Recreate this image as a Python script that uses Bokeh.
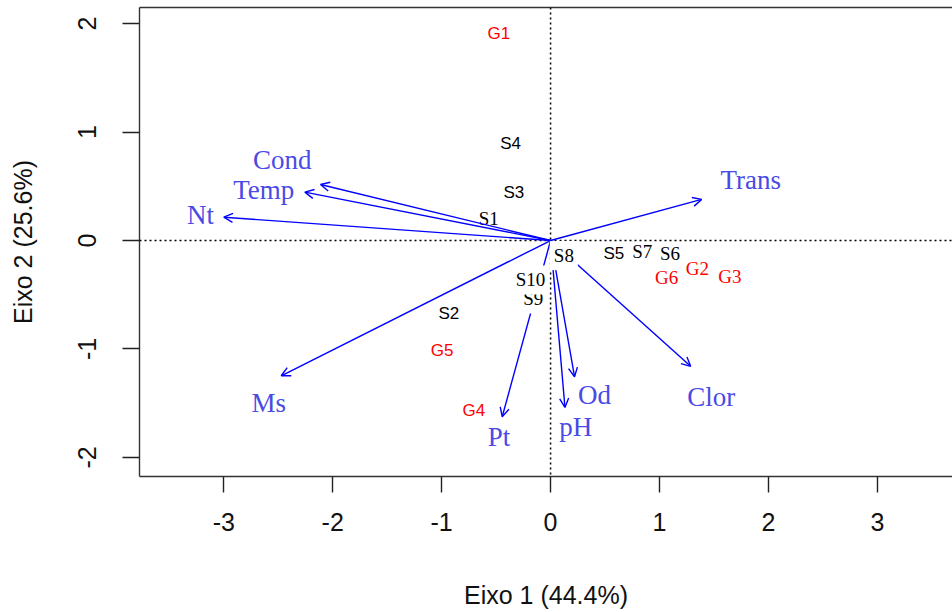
from bokeh.plotting import figure
from bokeh.models import (ColumnDataSource, Range1d, FixedTicker, LinearAxis,
                          Span, Arrow, OpenHead)
from bokeh.embed import file_html
from bokeh.resources import INLINE

# ---- data ----
site_labels = ["S1", "S2", "S3", "S4", "S5", "S6", "S7", "S8", "S9", "S10"]
site_x = [-0.567, -0.934, -0.337, -0.367, 0.581, 1.096, 0.842, 0.122, -0.159, -0.184]
site_y = [0.200, -0.677, 0.446, 0.893, -0.117, -0.123, -0.099, -0.139, -0.539, -0.363]

group_labels = ["G1", "G2", "G3", "G4", "G5", "G6"]
group_x = [-0.474, 1.347, 1.647, -0.704, -0.995, 1.065]
group_y = [1.908, -0.262, -0.332, -1.563, -1.016, -0.345]

var_names = ["Cond", "Temp", "Nt", "Trans", "Ms", "Pt", "Od", "pH", "Clor"]
var_x = [-2.112, -2.256, -3.000, 1.387, -2.473, -0.444, 0.220, 0.132, 1.286]
var_y = [0.517, 0.446, 0.215, 0.379, -1.247, -1.625, -1.256, -1.539, -1.160]
var_label_x = [-2.464, -2.633, -3.214, 1.837, -2.587, -0.474, 0.404, 0.230, 1.475]
var_label_y = [0.739, 0.468, 0.237, 0.560, -1.502, -1.816, -1.422, -1.717, -1.447]

x_ticks = [-3, -2, -1, 0, 1, 2, 3]
y_ticks = [-2, -1, 0, 1, 2]
x_title = "Eixo 1 (44.4%)"
y_title = "Eixo 2 (25.6%)"

# ---- styles ----
SANS = "Liberation Sans"
SERIF = "Liberation Serif"
serif_set = {"S1", "S6", "S7", "S8", "S9", "S10", "G2", "G3", "G6"}
boxed_set = {"S8", "S9", "S10"}   # labels drawn over the arrows with a white box


def fonts(labels):
    return [SERIF if l in serif_set else SANS for l in labels]


def sizes(labels):
    return ["19px" if l in serif_set else "17px" for l in labels]


p = figure(width=952, height=612,
           x_range=Range1d(-3.774, 3.69), y_range=Range1d(-2.176, 2.149),
           output_backend="svg", toolbar_location=None,
           min_border_left=139, min_border_right=0,
           min_border_top=7, min_border_bottom=136)
p.outline_line_color = None
p.grid.visible = False
p.background_fill_color = "white"
p.border_fill_color = "white"

for ax in (p.xaxis[0], p.yaxis[0]):
    ax.axis_line_color = "#333333"
    ax.axis_line_width = 1.4
    ax.major_tick_line_color = "#222222"
    ax.major_tick_line_width = 1.4
    ax.major_tick_in = 0
    ax.minor_tick_out = 0
    ax.minor_tick_in = 0
    ax.major_label_text_font = SANS
    ax.major_label_text_font_size = "25px"
    ax.major_label_text_color = "#111111"
    ax.axis_label_text_font = SANS
    ax.axis_label_text_font_size = "25px"
    ax.axis_label_text_font_style = "normal"
    ax.axis_label_text_color = "#111111"

p.xaxis.ticker = FixedTicker(ticks=x_ticks)
p.yaxis.ticker = FixedTicker(ticks=y_ticks)
p.xaxis.major_label_overrides = {t: str(t) for t in x_ticks}
p.yaxis.major_label_overrides = {t: str(t) for t in y_ticks}
p.xaxis.major_tick_out = 16
p.yaxis.major_tick_out = 17
p.xaxis.major_label_standoff = 20
p.yaxis.major_label_standoff = 26
p.yaxis.major_label_orientation = "vertical"
p.xaxis.axis_label = x_title
p.yaxis.axis_label = y_title
p.xaxis.axis_label_standoff = 47
p.yaxis.axis_label_standoff = 39

top = LinearAxis(ticker=FixedTicker(ticks=[]), major_tick_out=0, major_tick_in=0,
                 minor_tick_out=0, minor_tick_in=0, major_label_text_font_size="0px",
                 axis_line_color="#333333", axis_line_width=1.4)
p.add_layout(top, "above")

# dotted reference lines
p.add_layout(Span(location=0, dimension="height", line_color="black",
                  line_dash="2 3", line_width=1.5))
p.add_layout(Span(location=0, dimension="width", line_color="black",
                  line_dash="2 3", line_width=1.5))

# site and group labels that lie under the arrows
plain_sites = [i for i, l in enumerate(site_labels) if l not in boxed_set]
src_sites = ColumnDataSource(dict(
    x=[site_x[i] for i in plain_sites], y=[site_y[i] for i in plain_sites],
    t=[site_labels[i] for i in plain_sites],
    f=fonts([site_labels[i] for i in plain_sites]),
    s=sizes([site_labels[i] for i in plain_sites])))
p.text(x="x", y="y", text="t", source=src_sites, text_font="f", text_font_size="s",
       text_color="black", text_align="center", text_baseline="middle")

src_groups = ColumnDataSource(dict(x=group_x, y=group_y, t=group_labels,
                                   f=fonts(group_labels), s=sizes(group_labels)))
p.text(x="x", y="y", text="t", source=src_groups, text_font="f", text_font_size="s",
       text_color="#ff0000", text_align="center", text_baseline="middle")

# arrows
src_arr = ColumnDataSource(dict(x0=[0.0] * len(var_x), y0=[0.0] * len(var_y),
                                x1=var_x, y1=var_y))
p.add_layout(Arrow(end=OpenHead(size=9, line_color="#0000ff", line_width=1.4),
                   x_start="x0", y_start="y0", x_end="x1", y_end="y1",
                   source=src_arr, line_color="#0000ff", line_width=1.4))

# boxed site labels on top of the arrows
boxed = [i for i, l in enumerate(site_labels) if l in boxed_set]
src_boxed = ColumnDataSource(dict(
    x=[site_x[i] for i in boxed], y=[site_y[i] for i in boxed],
    t=[site_labels[i] for i in boxed],
    f=fonts([site_labels[i] for i in boxed]),
    s=sizes([site_labels[i] for i in boxed])))
rb = p.text(x="x", y="y", text="t", source=src_boxed, text_font="f", text_font_size="s",
            text_color="black", text_align="center", text_baseline="middle",
            background_fill_color="white", padding=4)
rb.level = "overlay"

# variable labels
src_var = ColumnDataSource(dict(x=var_label_x, y=var_label_y, t=var_names))
rv = p.text(x="x", y="y", text="t", source=src_var, text_font=SERIF,
            text_font_size="27px", text_color="#4a4ae6", text_align="center",
            text_baseline="middle")
rv.level = "overlay"

open("out.html", "w").write(file_html(p, INLINE))
